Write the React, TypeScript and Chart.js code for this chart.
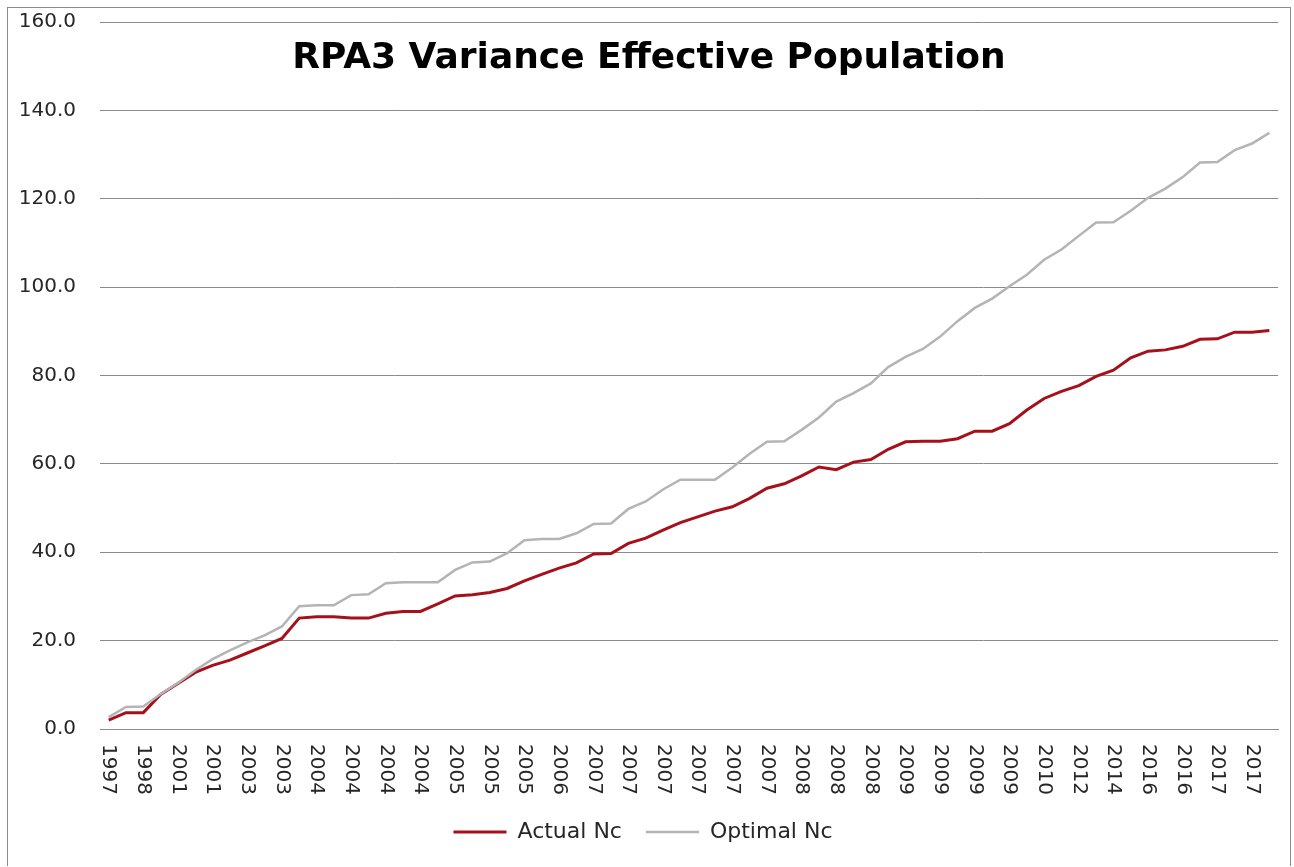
import React, { useEffect, useRef } from "react";
import { Chart, registerables } from "chart.js";

Chart.register(...registerables);

const categories: string[] = [
  "1997", "1997", "1998", "2000", "2001", "2002", "2001", "2002", "2003", "2003",
  "2003", "2003", "2004", "2004", "2004", "2004", "2004", "2004", "2004", "2005",
  "2005", "2005", "2005", "2005", "2005", "2006", "2006", "2006", "2007", "2007",
  "2007", "2007", "2007", "2007", "2007", "2007", "2007", "2007", "2007", "2007",
  "2008", "2008", "2008", "2008", "2008", "2008", "2009", "2009", "2009", "2009",
  "2009", "2009", "2009", "2010", "2010", "2011", "2012", "2013", "2014", "2015",
  "2016", "2016", "2016", "2016", "2017", "2017", "2017", "2017",
];

const actualNe: number[] = [
  2.0, 3.7, 3.7, 7.8, 10.3, 12.8, 14.4, 15.6, 17.2, 18.8,
  20.5, 25.1, 25.4, 25.4, 25.1, 25.1, 26.2, 26.6, 26.6, 28.3,
  30.1, 30.4, 30.9, 31.8, 33.5, 35.0, 36.4, 37.6, 39.6, 39.7,
  42.0, 43.2, 45.0, 46.7, 48.0, 49.3, 50.3, 52.2, 54.5, 55.5,
  57.3, 59.3, 58.7, 60.4, 61.0, 63.3, 65.0, 65.1, 65.1, 65.7,
  67.4, 67.4, 69.1, 72.2, 74.8, 76.4, 77.7, 79.8, 81.2, 84.0,
  85.5, 85.8, 86.6, 88.2, 88.3, 89.8, 89.8, 90.2,
];

const optimalNe: number[] = [
  2.7, 5.0, 5.1, 7.9, 10.4, 13.3, 15.8, 17.8, 19.6, 21.2,
  23.2, 27.8, 28.0, 28.0, 30.3, 30.5, 33.0, 33.2, 33.2, 33.2,
  36.0, 37.7, 37.9, 39.8, 42.7, 43.0, 43.0, 44.3, 46.4, 46.5,
  49.8, 51.5, 54.2, 56.4, 56.4, 56.4, 59.2, 62.3, 65.0, 65.1,
  67.7, 70.5, 74.1, 76.0, 78.2, 81.9, 84.2, 86.0, 88.8, 92.3,
  95.3, 97.4, 100.2, 102.8, 106.2, 108.5, 111.6, 114.6, 114.7, 117.3,
  120.2, 122.3, 124.9, 128.2, 128.3, 131.0, 132.5, 134.9,
];

const titleText = "RPA3 Variance Effective Population";
const seriesNames = ["Actual Nc", "Optimal Nc"];

const FONT = '"DejaVu Sans", "Liberation Sans", sans-serif';
const TEXT_COLOR = "#262626";
const GRID_COLOR = "#8a8a8a";

const overlayPlugin = {
  id: "overlay",
  afterDraw(chart: any) {
    const ctx = chart.ctx;
    const xs = chart.scales.x;
    ctx.save();
    // rotated category labels (clockwise, every second category)
    ctx.font = `20px ${FONT}`;
    ctx.fillStyle = TEXT_COLOR;
    ctx.textAlign = "left";
    ctx.textBaseline = "middle";
    categories.forEach((lab, i) => {
      if (i % 2 !== 0) return;
      const x = xs.getPixelForValue(i);
      ctx.save();
      ctx.translate(x, xs.top + 15);
      ctx.rotate(Math.PI / 2);
      ctx.fillText(lab, 0, 0);
      ctx.restore();
    });
    // title overlaid within plot
    ctx.font = `bold 36px ${FONT}`;
    ctx.fillStyle = "#000000";
    ctx.textAlign = "center";
    ctx.textBaseline = "alphabetic";
    ctx.fillText(titleText, 641, 60);
    ctx.restore();
  },
};

export default function App() {
  const canvasRef = useRef<HTMLCanvasElement | null>(null);

  useEffect(() => {
    if (!canvasRef.current) return;
    const chart = new Chart(canvasRef.current, {
      type: "line",
      data: {
        labels: categories,
        datasets: [
          {
            label: seriesNames[0],
            data: actualNe,
            borderColor: "#A6101A",
            backgroundColor: "#A6101A",
            borderWidth: 3,
            pointRadius: 0,
            pointStyle: "line",
            tension: 0,
            order: 1,
          },
          {
            label: seriesNames[1],
            data: optimalNe,
            borderColor: "#B4B4B4",
            backgroundColor: "#B4B4B4",
            borderWidth: 2.5,
            pointRadius: 0,
            pointStyle: "line",
            tension: 0,
            order: 0,
          },
        ],
      },
      options: {
        responsive: false,
        animation: false,
        layout: { padding: { left: 0, right: 12, top: 14, bottom: 13 } },
        plugins: {
          title: { display: false },
          tooltip: { enabled: false },
          legend: {
            display: true,
            position: "bottom",
            labels: {
              usePointStyle: true,
              pointStyleWidth: 53,
              padding: 24,
              color: TEXT_COLOR,
              font: { family: FONT, size: 22 },
              sort: (a: any, b: any) => a.datasetIndex - b.datasetIndex,
            },
          },
        },
        scales: {
          x: {
            type: "category",
            offset: true,
            grid: { display: false, drawTicks: false },
            border: { display: true, color: GRID_COLOR, width: 1 },
            ticks: { display: false },
            afterFit: (scale: any) => {
              scale.height = 68;
            },
          },
          y: {
            min: 0,
            max: 160,
            grid: { color: GRID_COLOR, lineWidth: 1, drawTicks: false },
            border: { display: false },
            ticks: {
              stepSize: 20,
              padding: 24,
              color: TEXT_COLOR,
              font: { family: FONT, size: 20 },
              callback: (v: any) => Number(v).toFixed(1),
            },
            afterFit: (scale: any) => {
              scale.width = 92;
              scale.paddingTop = 0;
              scale.paddingBottom = 0;
            },
          },
        },
      },
      plugins: [overlayPlugin],
    });
    return () => chart.destroy();
  }, []);

  return (
    <div
      style={{
        position: "absolute",
        left: 7,
        top: 7,
        width: 1284,
        height: 859,
        border: "1px solid #8c8c8c",
        borderBottom: "none",
        boxSizing: "border-box",
        background: "#ffffff",
      }}
    >
      <canvas ref={canvasRef} width={1282} height={858} style={{ display: "block" }} />
    </div>
  );
}
